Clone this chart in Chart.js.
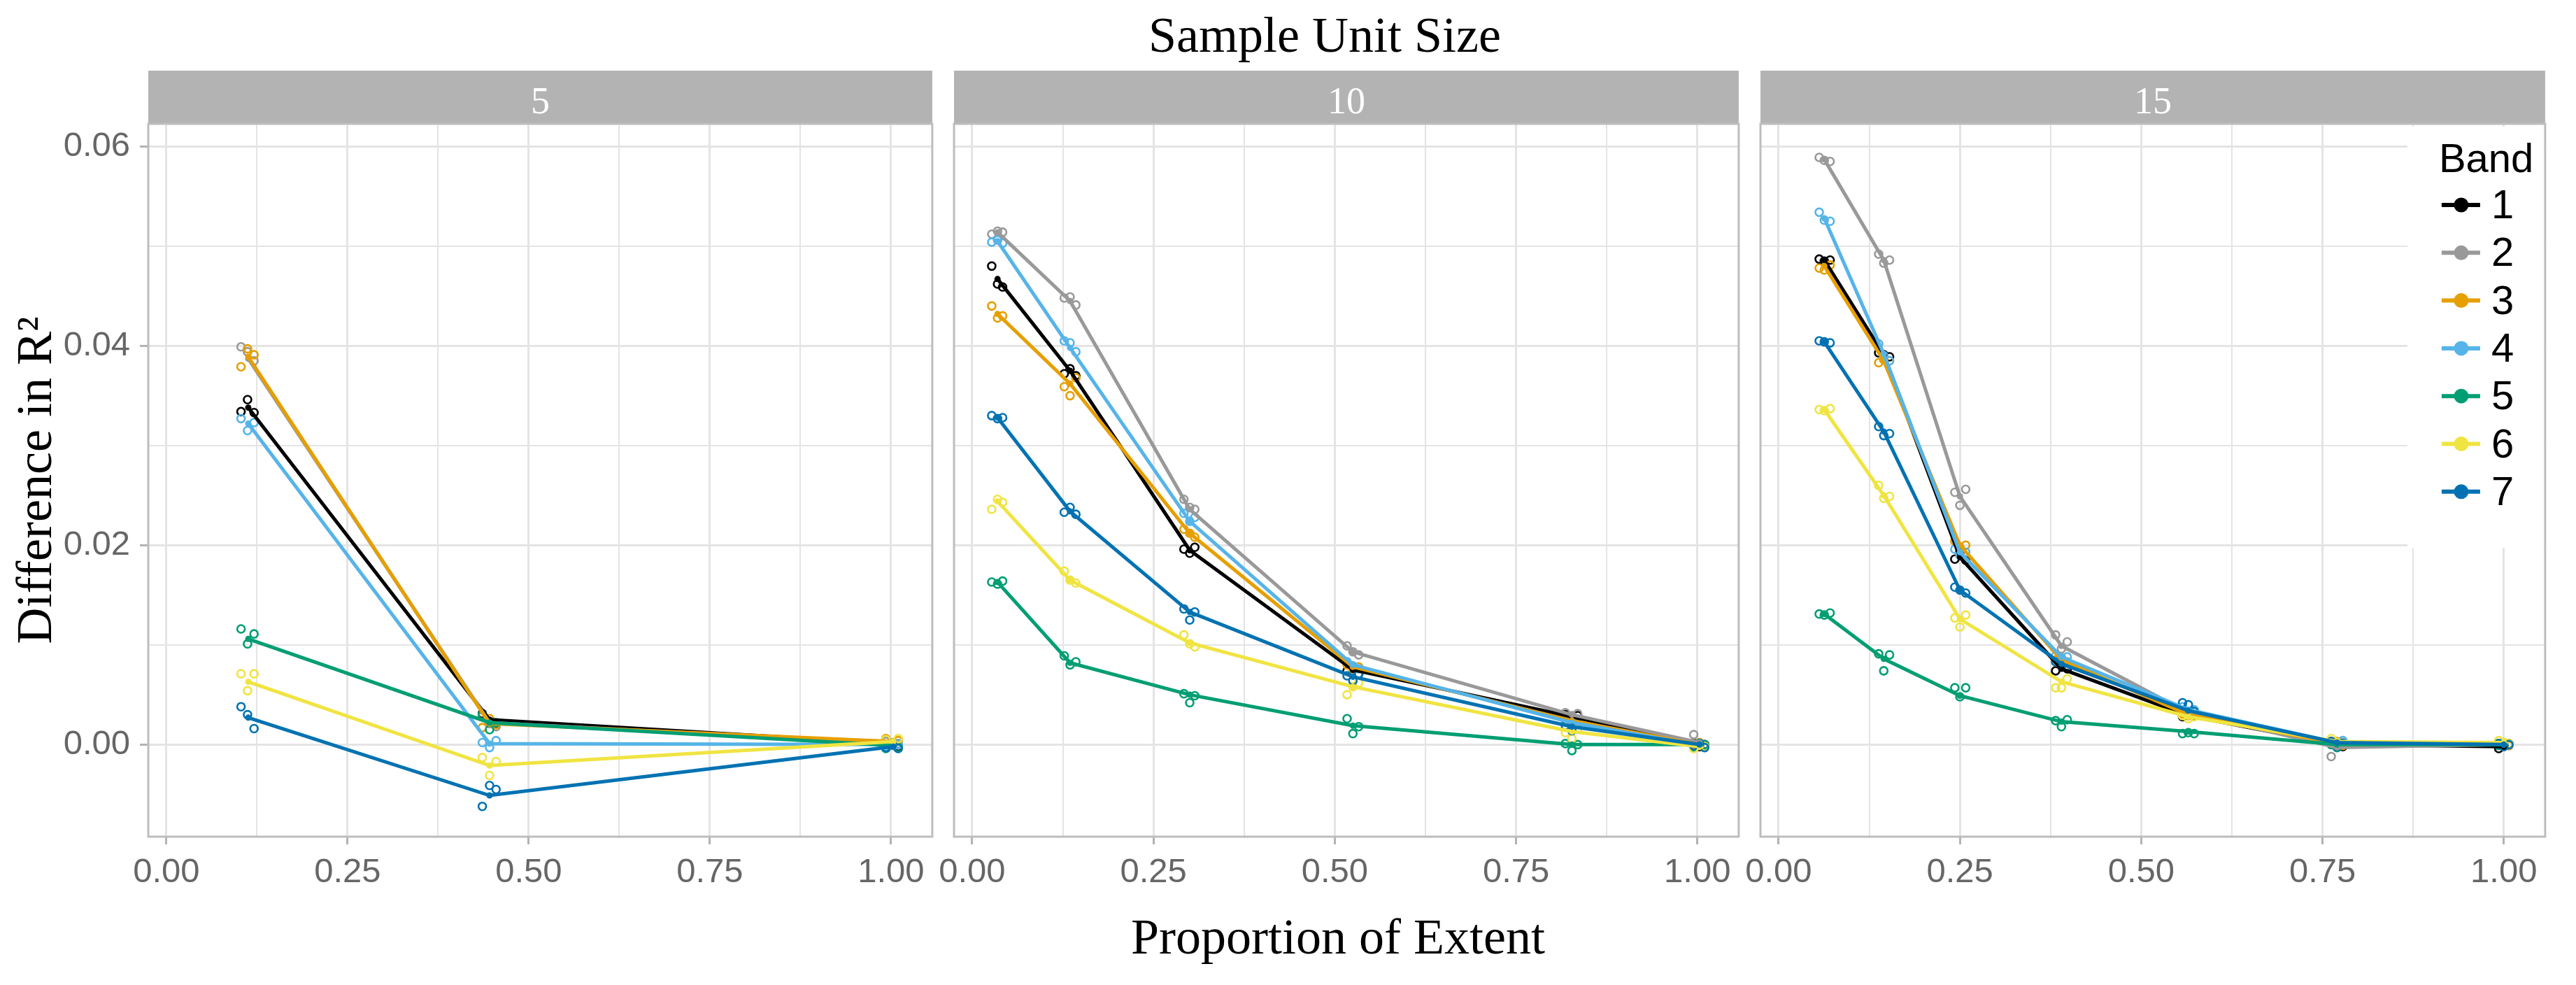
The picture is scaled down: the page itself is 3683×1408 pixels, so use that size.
<!DOCTYPE html>
<html>
<head>
<meta charset="utf-8">
<script src="https://cdn.jsdelivr.net/npm/chart.js@4.4.1/dist/chart.umd.min.js"></script>
<style>
    body { margin: 0; background: #fff; width: 3683px; height: 1408px; position: relative; overflow: hidden; }
    canvas { position: absolute; }
    .ttl { position: absolute; font-family: 'Liberation Serif', serif; font-size: 72px; line-height: 72px;
           color: #000; white-space: nowrap; transform: translateX(-50%); }
</style>
</head>
<body>
<div class="ttl" style="left:1894px; top:14px;">Sample Unit Size</div>
<div class="ttl" style="left:1913px; top:1303px;">Proportion of Extent</div>
<canvas id="c5" width="1341" height="1190" style="left:0px; top:100px;"></canvas>
<canvas id="c10" width="1170" height="1190" style="left:1324px; top:100px;"></canvas>
<canvas id="c15" width="1170" height="1190" style="left:2477px; top:100px;"></canvas>
<script>
const bands = ['1', '2', '3', '4', '5', '6', '7'];
const bandColors = ['#000000', '#999999', '#E69F00', '#56B4E9', '#009E73', '#F0E442', '#0072B2'];
const unitSizes = ['5', '10', '15'];
const xGrid = [0, 0.125, 0.25, 0.375, 0.5, 0.625, 0.75, 0.875, 1];
const yGrid = [0, 0.01, 0.02, 0.03, 0.04, 0.05, 0.06];

// sample unit size 5
const extent5 = [0.113, 0.446, 1.003];
const jitter5 = [[0.103, 0.112, 0.121], [0.436, 0.446, 0.455], [0.993, 1.002, 1.010]];
const mean5 = [
    [0.0338, 0.0025, 0.0001],
    [0.0387, 0.0022, 0.0001],
    [0.0389, 0.0021, 0.0003],
    [0.0322, 0.0001, 0.0000],
    [0.0106, 0.0022, -0.0001],
    [0.0063, -0.0021, 0.0003],
    [0.0027, -0.0051, -0.0002]
];
const reps5 = [
    [[0.0334, 0.0346, 0.0333], [0.0031, 0.0022, 0.0021], [0.0005, 0.0001, -0.0002]],
    [[0.0399, 0.0394, 0.0385], [0.0028, 0.0021, 0.0018], [0.0003, -0.0001, 0.0001]],
    [[0.0379, 0.0397, 0.0391], [0.0017, 0.0026, 0.0020], [0.0006, 0.0002, 0.0004]],
    [[0.0327, 0.0315, 0.0323], [0.0002, -0.0003, 0.0004], [-0.0002, 0.0002, 0.0000]],
    [[0.0116, 0.0101, 0.0111], [0.0030, 0.0015, 0.0022], [-0.0004, 0.0001, -0.0003]],
    [[0.0071, 0.0054, 0.0071], [-0.0013, -0.0031, -0.0017], [0.0005, 0.0001, 0.0006]],
    [[0.0038, 0.0030, 0.0016], [-0.0062, -0.0041, -0.0045], [-0.0003, 0.0000, -0.0004]]
];

// sample unit size 10
const extent10 = [0.035, 0.135, 0.300, 0.525, 0.827, 1.003];
const jitter10 = [[0.027, 0.035, 0.042], [0.127, 0.135, 0.143], [0.292, 0.300, 0.307],
                  [0.517, 0.525, 0.533], [0.818, 0.827, 0.835], [0.995, 1.003, 1.010]];
const mean10 = [
    [0.0467, 0.0375, 0.0195, 0.0075, 0.0028, 0.0000],
    [0.0514, 0.0445, 0.0236, 0.0093, 0.0030, 0.0002],
    [0.0432, 0.0362, 0.0212, 0.0078, 0.0024, 0.0000],
    [0.0505, 0.0398, 0.0224, 0.0080, 0.0022, -0.0001],
    [0.0163, 0.0082, 0.0050, 0.0019, 0.0000, 0.0000],
    [0.0244, 0.0165, 0.0102, 0.0058, 0.0013, -0.0002],
    [0.0328, 0.0234, 0.0133, 0.0068, 0.0018, 0.0000]
];
const reps10 = [
    [[0.0480, 0.0462, 0.0459], [0.0372, 0.0377, 0.0370], [0.0196, 0.0192, 0.0198], [0.0074, 0.0078, 0.0071], [0.0030, 0.0026, 0.0029], [0.0001, -0.0002, 0.0000]],
    [[0.0512, 0.0515, 0.0514], [0.0448, 0.0449, 0.0441], [0.0246, 0.0238, 0.0236], [0.0099, 0.0093, 0.0090], [0.0032, 0.0029, 0.0031], [0.0010, 0.0000, -0.0001]],
    [[0.0440, 0.0428, 0.0430], [0.0359, 0.0350, 0.0368], [0.0216, 0.0212, 0.0208], [0.0080, 0.0075, 0.0078], [0.0026, 0.0021, 0.0024], [0.0000, 0.0002, -0.0002]],
    [[0.0504, 0.0506, 0.0503], [0.0405, 0.0403, 0.0394], [0.0232, 0.0224, 0.0228], [0.0083, 0.0079, 0.0076], [0.0024, 0.0019, 0.0022], [-0.0003, 0.0001, -0.0002]],
    [[0.0163, 0.0161, 0.0164], [0.0089, 0.0080, 0.0083], [0.0051, 0.0042, 0.0049], [0.0026, 0.0011, 0.0018], [0.0001, -0.0006, 0.0000], [-0.0002, 0.0001, 0.0000]],
    [[0.0236, 0.0246, 0.0243], [0.0174, 0.0165, 0.0162], [0.0110, 0.0101, 0.0098], [0.0050, 0.0058, 0.0062], [0.0012, 0.0006, 0.0016], [-0.0004, -0.0001, -0.0002]],
    [[0.0330, 0.0327, 0.0328], [0.0233, 0.0238, 0.0231], [0.0136, 0.0125, 0.0133], [0.0069, 0.0064, 0.0071], [0.0019, 0.0014, 0.0021], [-0.0001, 0.0001, -0.0003]]
];

// sample unit size 15
const extent15 = [0.063, 0.145, 0.250, 0.390, 0.565, 0.770, 1.000];
const jitter15 = [[0.056, 0.063, 0.071], [0.138, 0.145, 0.153], [0.243, 0.250, 0.258], [0.382, 0.390, 0.398],
                  [0.557, 0.565, 0.573], [0.762, 0.770, 0.778], [0.993, 1.000, 1.007]];
const mean15 = [
    [0.0486, 0.0391, 0.0188, 0.0076, 0.0029, 0.0000, -0.0002],
    [0.0587, 0.0486, 0.0249, 0.0099, 0.0032, -0.0003, 0.0000],
    [0.0480, 0.0385, 0.0200, 0.0085, 0.0030, 0.0001, 0.0000],
    [0.0528, 0.0392, 0.0193, 0.0088, 0.0035, 0.0002, 0.0001],
    [0.0131, 0.0086, 0.0049, 0.0023, 0.0013, 0.0000, 0.0000],
    [0.0336, 0.0250, 0.0126, 0.0063, 0.0028, 0.0003, 0.0002],
    [0.0404, 0.0314, 0.0155, 0.0081, 0.0034, 0.0002, 0.0000]
];
const reps15 = [
    [[0.0487, 0.0485, 0.0486], [0.0393, 0.0391, 0.0389], [0.0186, 0.0193, 0.0185], [0.0074, 0.0079, 0.0076], [0.0028, 0.0030, 0.0029], [0.0003, 0.0000, -0.0002], [-0.0004, -0.0001, 0.0000]],
    [[0.0589, 0.0586, 0.0585], [0.0492, 0.0483, 0.0486], [0.0253, 0.0240, 0.0256], [0.0110, 0.0096, 0.0103], [0.0032, 0.0030, 0.0034], [-0.0012, -0.0002, 0.0002], [0.0000, 0.0002, -0.0001]],
    [[0.0478, 0.0476, 0.0481], [0.0383, 0.0386, 0.0385], [0.0204, 0.0198, 0.0200], [0.0085, 0.0087, 0.0083], [0.0031, 0.0029, 0.0030], [0.0001, 0.0003, -0.0001], [0.0001, 0.0000, -0.0001]],
    [[0.0534, 0.0526, 0.0525], [0.0402, 0.0390, 0.0385], [0.0196, 0.0190, 0.0193], [0.0089, 0.0087, 0.0088], [0.0038, 0.0033, 0.0035], [0.0002, 0.0000, 0.0004], [0.0001, 0.0002, 0.0000]],
    [[0.0131, 0.0130, 0.0132], [0.0091, 0.0074, 0.0090], [0.0057, 0.0048, 0.0057], [0.0024, 0.0018, 0.0025], [0.0011, 0.0012, 0.0011], [0.0000, -0.0003, 0.0001], [-0.0001, 0.0000, 0.0001]],
    [[0.0336, 0.0335, 0.0337], [0.0260, 0.0247, 0.0249], [0.0127, 0.0118, 0.0130], [0.0057, 0.0057, 0.0066], [0.0029, 0.0026, 0.0028], [0.0006, 0.0002, 0.0001], [0.0004, 0.0002, 0.0001]],
    [[0.0405, 0.0404, 0.0403], [0.0319, 0.0310, 0.0312], [0.0158, 0.0155, 0.0152], [0.0083, 0.0080, 0.0079], [0.0042, 0.0040, 0.0033], [0.0003, -0.0002, 0.0001], [0.0001, -0.0002, 0.0000]]
];

const sansFont = "'Liberation Sans', Arial, sans-serif";
const serifFont = "'Liberation Serif', 'Times New Roman', serif";
const tickTextColor = '#666666';
const gridColor = '#e4e4e4';
const frameColor = '#bdbdbd';

function isMajorX(v) { return Math.abs(v * 4 - Math.round(v * 4)) < 1e-6; }
function isMajorY(v) { return Math.abs(v * 50 - Math.round(v * 50)) < 1e-6; }

function buildDatasets(extent, jitter, means, reps) {
    let sets = [];
    for (let b = 0; b < bands.length; b++) {
        let pts = [];
        for (let i = 0; i < extent.length; i++) {
            pts.push({ x: extent[i], y: means[b][i] });
        }
        sets.push({
            label: bands[b],
            data: pts,
            showLine: true,
            borderColor: bandColors[b],
            backgroundColor: bandColors[b],
            borderWidth: 5,
            pointRadius: 4.5,
            pointBorderWidth: 0,
            tension: 0,
            order: 10 - b
        });
    }
    for (let b = 0; b < bands.length; b++) {
        let pts = [];
        for (let i = 0; i < jitter.length; i++) {
            for (let k = 0; k < jitter[i].length; k++) {
                pts.push({ x: jitter[i][k], y: reps[b][i][k] });
            }
        }
        sets.push({
            label: 'Band ' + bands[b] + ' replicates',
            data: pts,
            showLine: false,
            pointStyle: 'circle',
            pointRadius: 5.5,
            borderColor: bandColors[b],
            backgroundColor: 'rgba(0,0,0,0)',
            borderWidth: 2.6,
            order: 30 - b
        });
    }
    return sets;
}

// grey facet strip on top, frame round the panel
const panelFrame = {
    id: 'panelFrame',
    beforeDraw(chart, args, opts) {
        const ca = chart.chartArea;
        const ctx = chart.ctx;
        ctx.save();
        ctx.fillStyle = '#b3b3b3';
        ctx.fillRect(ca.left, ca.top - 76, ca.right - ca.left, 76);
        ctx.fillStyle = '#ffffff';
        ctx.font = '54px ' + serifFont;
        ctx.textAlign = 'center';
        ctx.textBaseline = 'alphabetic';
        ctx.fillText(opts.text, (ca.left + ca.right) / 2, ca.top - 15);
        ctx.restore();
    },
    afterDraw(chart) {
        const ca = chart.chartArea;
        const ctx = chart.ctx;
        ctx.save();
        ctx.strokeStyle = frameColor;
        ctx.lineWidth = 3;
        ctx.strokeRect(ca.left, ca.top, ca.right - ca.left, ca.bottom - ca.top);
        ctx.restore();
    }
};

// "Band" legend laid over the right panel
const bandLegend = {
    id: 'bandLegend',
    afterDraw(chart) {
        const ca = chart.chartArea;
        const ctx = chart.ctx;
        ctx.save();
        ctx.fillStyle = '#ffffff';
        ctx.fillRect(ca.right - 197, ca.top + 4, 195, 602);
        ctx.fillStyle = '#000000';
        ctx.font = '58px ' + sansFont;
        ctx.textAlign = 'left';
        ctx.textBaseline = 'alphabetic';
        ctx.fillText('Band', ca.right - 152, 146);
        ctx.textBaseline = 'middle';
        for (let b = 0; b < bands.length; b++) {
            let y = 193 + 68.3 * b;
            ctx.strokeStyle = bandColors[b];
            ctx.lineWidth = 6;
            ctx.beginPath();
            ctx.moveTo(ca.right - 148, y);
            ctx.lineTo(ca.right - 93, y);
            ctx.stroke();
            ctx.fillStyle = bandColors[b];
            ctx.beginPath();
            ctx.arc(ca.right - 120, y, 10.5, 0, Math.PI * 2);
            ctx.fill();
            ctx.fillStyle = '#000000';
            ctx.fillText(bands[b], ca.right - 77, y + 3);
        }
        ctx.restore();
    }
};

function panelOptions(label, first) {
    return {
        responsive: false,
        animation: false,
        devicePixelRatio: 1,
        layout: { padding: { top: 77, left: first ? 0 : 40, right: 0, bottom: 0 } },
        plugins: {
            legend: { display: false },
            tooltip: { enabled: false },
            panelFrame: { text: label }
        },
        scales: {
            x: {
                type: 'linear',
                min: -0.025,
                max: 1.057,
                afterBuildTicks: (scale) => { scale.ticks = xGrid.map(v => ({ value: v })); },
                afterFit: (scale) => { scale.height = 94; },
                border: { display: false },
                grid: {
                    color: gridColor,
                    lineWidth: (ctx) => isMajorX(ctx.tick.value) ? 3 : 2,
                    tickLength: 11,
                    tickWidth: 3,
                    tickColor: (ctx) => isMajorX(ctx.tick.value) ? '#b3b3b3' : 'rgba(0,0,0,0)'
                },
                ticks: {
                    autoSkip: false,
                    maxRotation: 0,
                    padding: 11,
                    color: tickTextColor,
                    font: { family: sansFont, size: 49 },
                    callback: (v) => isMajorX(v) ? v.toFixed(2) : ''
                }
            },
            y: {
                type: 'linear',
                min: -0.00924,
                max: 0.06227,
                afterBuildTicks: (scale) => { scale.ticks = yGrid.map(v => ({ value: v })); },
                afterFit: (scale) => { scale.width = first ? 212 : 0; },
                border: { display: false },
                grid: {
                    color: gridColor,
                    lineWidth: (ctx) => isMajorY(ctx.tick.value) ? 3 : 2,
                    drawTicks: first,
                    tickLength: first ? 12 : 0,
                    tickWidth: 3,
                    tickColor: (ctx) => isMajorY(ctx.tick.value) ? '#b3b3b3' : 'rgba(0,0,0,0)'
                },
                ticks: {
                    display: first,
                    padding: 14,
                    color: tickTextColor,
                    font: { family: sansFont, size: 49 },
                    callback: (v) => isMajorY(v) ? v.toFixed(2) : ''
                },
                title: {
                    display: first,
                    text: 'Difference in R\u00B2',
                    color: '#000000',
                    font: { family: serifFont, size: 72, lineHeight: 1.2 },
                    padding: { top: 11, bottom: 0 }
                }
            }
        }
    };
}

new Chart(document.getElementById('c5'), {
    type: 'scatter',
    data: { datasets: buildDatasets(extent5, jitter5, mean5, reps5) },
    options: panelOptions(unitSizes[0], true),
    plugins: [panelFrame]
});

new Chart(document.getElementById('c10'), {
    type: 'scatter',
    data: { datasets: buildDatasets(extent10, jitter10, mean10, reps10) },
    options: panelOptions(unitSizes[1], false),
    plugins: [panelFrame]
});

new Chart(document.getElementById('c15'), {
    type: 'scatter',
    data: { datasets: buildDatasets(extent15, jitter15, mean15, reps15) },
    options: panelOptions(unitSizes[2], false),
    plugins: [bandLegend, panelFrame]
});
</script>
</body>
</html>
